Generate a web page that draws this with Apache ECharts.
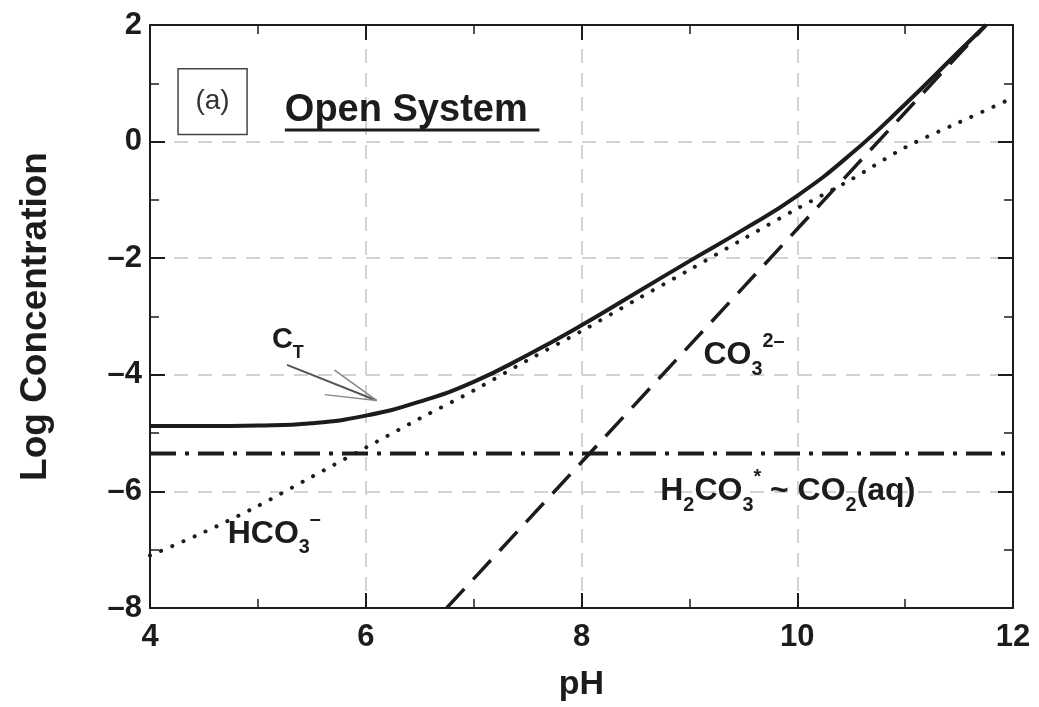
<!DOCTYPE html>
<html>
<head>
<meta charset="utf-8">
<script src="https://cdn.jsdelivr.net/npm/echarts@6/dist/echarts.min.js"></script>
<style>
html,body{margin:0;padding:0;background:#fff;}
#chart{width:1039px;height:707px;}
</style>
</head>
<body>
<div id="chart"></div>
<script>
// ---- data ----
const xTicks = [4, 6, 8, 10, 12];
const yTicks = [-8, -6, -4, -2, 0, 2];

const ctPH = [4, 4.5, 5, 5.5, 6, 6.5, 7, 7.5, 8, 8.5, 9, 9.5, 10, 10.5, 11, 11.5, 11.75];
const ctLog = [-4.88, -4.88, -4.87, -4.83, -4.7, -4.46, -4.12, -3.66, -3.15, -2.6, -2.05, -1.51, -0.93, -0.21, 0.64, 1.55, 2.0];

const hco3PH = [4, 4.5, 5, 5.5, 6, 6.5, 7, 7.5, 8, 8.5, 9, 9.5, 10, 10.5, 11, 11.5, 12];
const hco3Log = [-7.1, -6.7, -6.25, -5.75, -5.25, -4.75, -4.27, -3.75, -3.25, -2.72, -2.2, -1.67, -1.15, -0.65, -0.1, 0.33, 0.75];

const co3PH = [6.75, 7, 8, 9, 10, 11, 11.75];
const co3Log = [-8, -7.5, -5.5, -3.5, -1.5, 0.5, 2.0];

const h2co3PH = [4, 12];
const h2co3Log = [-5.35, -5.35];

// annotation anchors in data units
const boxA = [4.26, 1.25, 4.9, 0.12];
const openSys = [5.25, 0.53, 7.61, 0.2];
const ctLabel = [5.13, -3.41];
const ctArrow = [[5.27, -3.83], [6.10, -4.44], [5.71, -3.92], [5.62, -4.34]];
const hco3Label = [4.72, -6.73];
const co3Label = [9.13, -3.67];
const h2co3Label = [8.73, -6.0];

const zip = (a, b) => a.map((v, i) => [v, b[i]]);
const FONT = '"Liberation Sans", Arial, Helvetica, sans-serif';
const INK = '#1c1c1c';

const chart = echarts.init(document.getElementById('chart'));

const baseAxis = {
  type: 'value',
  interval: 2,
  axisLine: { show: true, onZero: false, lineStyle: { color: INK, width: 2 } },
  axisTick: { show: true, inside: true, length: 15, lineStyle: { color: INK, width: 2 } },
  minorTick: { show: true, splitNumber: 2, length: 9, lineStyle: { color: INK, width: 1.5 } },
  splitLine: { show: false },
  minorSplitLine: { show: false }
};

chart.setOption({
  animation: false,
  backgroundColor: '#fff',
  grid: { left: 150, right: 26, top: 25, bottom: 99, containLabel: false },
  xAxis: [
    Object.assign({}, baseAxis, {
      min: xTicks[0], max: xTicks[xTicks.length - 1],
      position: 'bottom',
      name: 'pH', nameLocation: 'middle', nameGap: 60,
      nameTextStyle: { fontFamily: FONT, fontWeight: 'bold', fontSize: 34, color: INK },
      axisLabel: { margin: 14, fontFamily: FONT, fontWeight: 'bold', fontSize: 31, color: INK },
      splitLine: { show: true, lineStyle: { color: '#c4c4c4', type: [14, 10], width: 1.5 } }
    }),
    Object.assign({}, baseAxis, {
      min: xTicks[0], max: xTicks[xTicks.length - 1],
      position: 'top', axisLabel: { show: false }
    })
  ],
  yAxis: [
    Object.assign({}, baseAxis, {
      min: yTicks[0], max: yTicks[yTicks.length - 1],
      position: 'left',
      name: 'Log Concentration', nameLocation: 'middle', nameGap: 96, nameRotate: 90,
      nameTextStyle: { fontFamily: FONT, fontWeight: 'bold', fontSize: 37, color: INK },
      axisLabel: { margin: 8, fontFamily: FONT, fontWeight: 'bold', fontSize: 31, color: INK,
        formatter: v => String(v).replace('-', '\u2013') },
      splitLine: { show: true, lineStyle: { color: '#c4c4c4', type: [14, 10], width: 1.5 } }
    }),
    Object.assign({}, baseAxis, {
      min: yTicks[0], max: yTicks[yTicks.length - 1],
      position: 'right', axisLabel: { show: false }
    })
  ],
  series: [
    {
      name: 'H2CO3*', type: 'line', showSymbol: false, data: zip(h2co3PH, h2co3Log),
      lineStyle: { color: INK, width: 4, type: [26, 9, 4, 9] }, z: 3
    },
    {
      name: 'HCO3-', type: 'line', showSymbol: false, data: zip(hco3PH, hco3Log), smooth: 0.3,
      lineStyle: { color: INK, width: 4, type: [0.1, 12], cap: 'round' }, z: 3
    },
    {
      name: 'CO3 2-', type: 'line', showSymbol: false, data: zip(co3PH, co3Log),
      lineStyle: { color: INK, width: 3.5, type: [26, 13] }, z: 3
    },
    {
      name: 'CT', type: 'line', showSymbol: false, data: zip(ctPH, ctLog), smooth: 0.5,
      lineStyle: { color: INK, width: 4 }, z: 4
    }
  ]
});

function px(p) { return chart.convertToPixel({ gridIndex: 0 }, p); }

function species(anchor, text, rich) {
  const p = px(anchor);
  return {
    type: 'text', x: p[0], y: p[1], z: 10,
    style: {
      text: text, fill: INK, fontFamily: FONT, fontWeight: 'bold',
      align: 'left', verticalAlign: 'middle', rich: rich
    }
  };
}

const bigRich = (size) => ({
  m: { fontSize: size, fontWeight: 'bold', fontFamily: FONT, fill: INK, lineHeight: size * 1.5, verticalAlign: 'middle' },
  s: { fontSize: size * 0.62, fontWeight: 'bold', fontFamily: FONT, fill: INK, lineHeight: size * 0.9, verticalAlign: 'bottom' },
  u: { fontSize: size * 0.62, fontWeight: 'bold', fontFamily: FONT, fill: INK, lineHeight: size * 0.9, verticalAlign: 'top' }
});

const b0 = px([boxA[0], boxA[1]]), b1 = px([boxA[2], boxA[3]]);
const o0 = px([openSys[0], openSys[1]]), o1 = px([openSys[2], openSys[3]]);
const a0 = px(ctArrow[0]), a1 = px(ctArrow[1]), a2 = px(ctArrow[2]), a3 = px(ctArrow[3]);

chart.setOption({
  graphic: [
    { type: 'rect', shape: { x: b0[0], y: b0[1], width: b1[0] - b0[0], height: b1[1] - b0[1] },
      style: { fill: '#fff', stroke: '#444', lineWidth: 1.5 }, z: 10 },
    { type: 'text', x: (b0[0] + b1[0]) / 2, y: (b0[1] + b1[1]) / 2, z: 11,
      style: { text: '(a)', fontFamily: FONT, fontSize: 28, fill: '#333', align: 'center', verticalAlign: 'middle' } },
    { type: 'text', x: o0[0], y: o0[1], z: 10,
      style: { text: 'Open System', fontFamily: FONT, fontWeight: 'bold', fontSize: 38, fill: INK, align: 'left', verticalAlign: 'middle' } },
    { type: 'line', z: 10, shape: { x1: o0[0], y1: o1[1], x2: o1[0], y2: o1[1] }, style: { stroke: INK, lineWidth: 3 } },
    species(ctLabel, '{m|C}{s|T}', bigRich(29)),
    { type: 'line', z: 10, shape: { x1: a0[0], y1: a0[1], x2: a1[0], y2: a1[1] }, style: { stroke: '#555', lineWidth: 2 } },
    { type: 'line', z: 10, shape: { x1: a2[0], y1: a2[1], x2: a1[0], y2: a1[1] }, style: { stroke: '#888', lineWidth: 1.5 } },
    { type: 'line', z: 10, shape: { x1: a3[0], y1: a3[1], x2: a1[0], y2: a1[1] }, style: { stroke: '#888', lineWidth: 1.5 } },
    species(hco3Label, '{m|HCO}{s|3}{u|\u2013}', bigRich(32)),
    species(co3Label, '{m|CO}{s|3}{u|2\u2013}', bigRich(32)),
    species(h2co3Label, '{m|H}{s|2}{m|CO}{s|3}{u|*}{m| ~ CO}{s|2}{m|(aq)}', bigRich(32))
  ]
});
</script>
</body>
</html>
